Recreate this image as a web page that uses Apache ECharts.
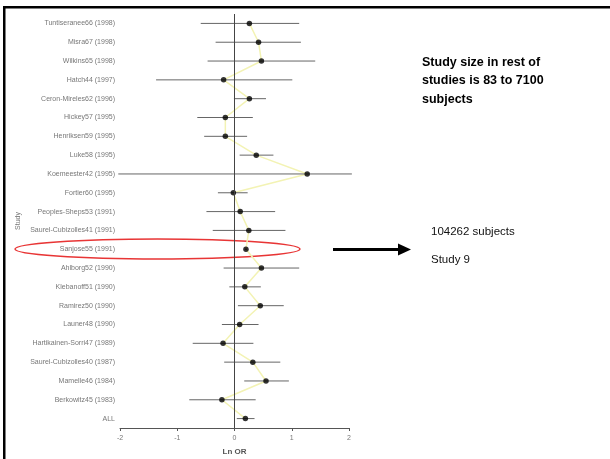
<!DOCTYPE html>
<html>
<head>
<meta charset="utf-8">
<script src="https://cdn.jsdelivr.net/npm/echarts@6/dist/echarts.min.js"></script>
<style>
html,body{margin:0;padding:0;background:#fff;}
#forest{width:610px;height:459px;}
</style>
</head>
<body>
<div id="forest"></div>
<script>
// studies, top to bottom
var studies = ['Tuntiseranee66 (1998)','Misra67 (1998)','Wilkins65 (1998)','Hatch44 (1997)',
    'Ceron-Mireles62 (1996)','Hickey57 (1995)','Henriksen59 (1995)','Luke58 (1995)',
    'Koemeester42 (1995)','Fortier60 (1995)','Peoples-Sheps53 (1991)','Saurel-Cubizolles41 (1991)',
    'Sanjose55 (1991)','Ahlborg52 (1990)','Klebanoff51 (1990)','Ramirez50 (1990)','Launer48 (1990)',
    'Hartikainen-Sorri47 (1989)','Saurel-Cubizolles40 (1987)','Mamelle46 (1984)','Berkowitz45 (1983)','ALL'];
// ln OR and confidence limits
var lnOR  = [0.26,0.42,0.47,-0.19,0.26,-0.16,-0.16,0.38,1.27,-0.02,0.10,0.25,0.20,0.47,0.18,0.45,0.09,-0.20,0.32,0.55,-0.22,0.19];
var lower = [-0.59,-0.33,-0.47,-1.37,-0.01,-0.65,-0.53,0.09,-2.03,-0.29,-0.49,-0.38,0.18,-0.19,-0.09,0.06,-0.22,-0.73,-0.18,0.17,-0.79,0.04];
var upper = [1.13,1.16,1.41,1.01,0.55,0.32,0.22,0.68,2.05,0.23,0.71,0.89,0.22,1.13,0.46,0.86,0.42,0.33,0.80,0.95,0.37,0.35];
var xTicks = ['-2','-1','0','1','2'];

var chart = echarts.init(document.getElementById('forest'));

var ciData = [], ptData = [];
studies.forEach(function(s, i){
    ciData.push([lower[i], upper[i], s]);
    ptData.push([lnOR[i], s]);
});

chart.setOption({
    animation:false,
    grid:{left:120, top:14, width:229, height:414, outerBoundsMode:'none', containLabel:false},
    xAxis:{
        type:'value', min:-2, max:2, interval:1,
        axisLine:{show:true, lineStyle:{color:'#555', width:1}},
        axisTick:{show:true, length:3, lineStyle:{color:'#555'}},
        splitLine:{show:false},
        axisLabel:{fontSize:7, color:'#777', margin:7, fontFamily:'Liberation Sans',
            formatter:function(v){ return xTicks[Math.round(v)+2]; }},
        name:'Ln OR', nameLocation:'middle', nameGap:20,
        nameTextStyle:{fontSize:8, fontWeight:'bold', color:'#555', fontFamily:'Liberation Sans'}
    },
    yAxis:{
        type:'category', data:studies, inverse:true,
        axisLine:{show:false}, axisTick:{show:false},
        axisLabel:{fontSize:7, color:'#777', margin:5, fontFamily:'Liberation Sans'},
        name:'Study', nameLocation:'middle', nameGap:98, nameRotate:90,
        nameTextStyle:{fontSize:7, color:'#777', fontFamily:'Liberation Sans'}
    },
    series:[
        {
            type:'line', data:ptData, symbol:'none', z:1,
            lineStyle:{color:'#f3f3b4', width:1.5}
        },
        {
            type:'custom', data:ciData, z:2,
            encode:{x:[0,1], y:2},
            renderItem:function(params, api){
                var a = api.coord([api.value(0), api.value(2)]);
                var b = api.coord([api.value(1), api.value(2)]);
                return {type:'line', shape:{x1:a[0], y1:a[1], x2:b[0], y2:b[1]},
                    style:{stroke:'#666', lineWidth:1}};
            }
        },
        {
            type:'scatter', data:ptData, symbolSize:5.5, z:3,
            itemStyle:{color:'#000'},
            markLine:{
                silent:true, symbol:'none', label:{show:false},
                lineStyle:{color:'#444', width:1, type:'solid'},
                data:[{xAxis:0}]
            }
        }
    ],
    graphic:[
        {type:'rect', shape:{x:3, y:6, width:607, height:2.5}, style:{fill:'#000'}},
        {type:'rect', shape:{x:3, y:6, width:2.5, height:453}, style:{fill:'#000'}},
        {type:'ellipse', shape:{cx:157.5, cy:249, rx:142.5, ry:10},
            style:{fill:null, stroke:'#e83535', lineWidth:1.5}},
        {type:'rect', shape:{x:333, y:248, width:67, height:3}, style:{fill:'#000'}},
        {type:'polygon', shape:{points:[[398,243.5],[411,249.5],[398,255.5]]}, style:{fill:'#000'}},
        {type:'text', left:431, top:226, style:{text:'104262 subjects', font:'11.5px "Liberation Sans"', fill:'#111'}},
        {type:'text', left:431, top:254, style:{text:'Study 9', font:'11.5px "Liberation Sans"', fill:'#111'}},
        {type:'text', left:422, top:53, style:{text:'Study size in rest of\nstudies is 83 to 7100\nsubjects',
            font:'bold 12.5px "Liberation Sans"', lineHeight:18.5, fill:'#000'}}
    ]
});
</script>
</body>
</html>
